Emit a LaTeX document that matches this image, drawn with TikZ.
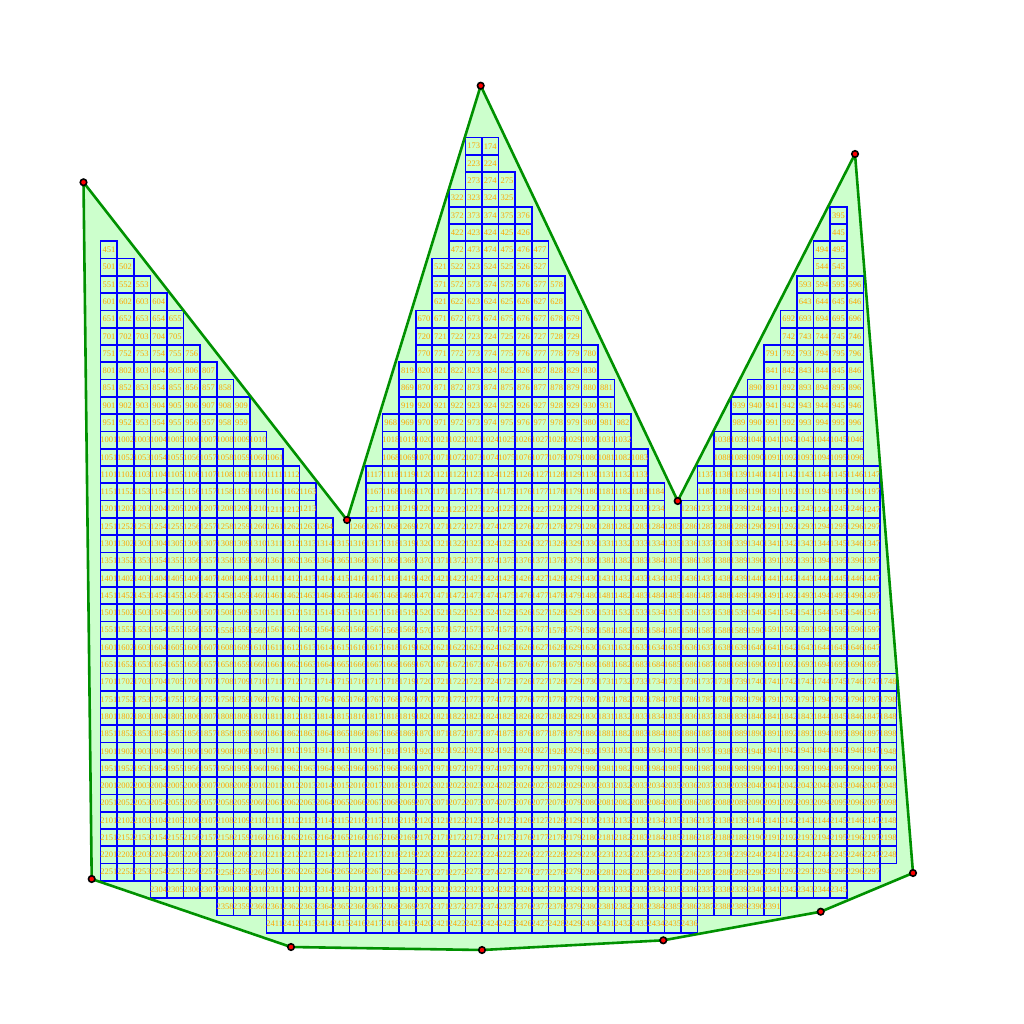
\documentclass[tikz,border=0pt]{standalone}
\usepackage{fontspec}
\setmainfont{Liberation Serif}
\definecolor{polyfill}{RGB}{204,255,204}
\definecolor{polyline}{RGB}{0,145,0}
\definecolor{numcol}{RGB}{255,165,0}
\begin{document}
\begin{tikzpicture}[x=1pt,y=-1pt,
  cellbox/.style={draw=blue, line width=1.6pt},
  numtxt/.style={text=numcol, font=\fontsize{8.5}{8.5}\selectfont, inner sep=0pt},
  polyshape/.style={draw=polyline, line width=2.6pt, line join=round},
  vtx/.style={circle, fill=red, draw=black, line width=1.6pt, minimum size=6.5pt, inner sep=0pt}]
\useasboundingbox (0,0) rectangle (1024,1024);
\coordinate (v1) at (83.5,182.3);
\coordinate (v2) at (347,520);
\coordinate (v3) at (480.7,85.7);
\coordinate (v4) at (677.7,501);
\coordinate (v5) at (855,154);
\coordinate (v6) at (913,873);
\coordinate (v7) at (820.7,911.7);
\coordinate (v8) at (663.3,940.3);
\coordinate (v9) at (482,950);
\coordinate (v10) at (291,947);
\coordinate (v11) at (91.7,879);
\fill[polyfill] (v1) -- (v2) -- (v3) -- (v4) -- (v5) -- (v6) -- (v7) -- (v8) -- (v9) -- (v10) -- (v11) -- cycle;
\def\gx{84.1}\def\gw{16.58}\def\gy{85.7}\def\gh{17.286}
\foreach \r/\a/\b in {3/23/24, 4/23/24, 5/23/25, 6/22/25,
  7/22/26, 7/45/45, 8/22/26, 8/45/45,
  9/1/1, 9/22/27, 9/44/45, 10/1/2, 10/21/27, 10/44/45,
  11/1/3, 11/21/28, 11/43/46, 12/1/4, 12/21/28, 12/43/46,
  13/1/5, 13/20/29, 13/42/46, 14/1/5, 14/20/29, 14/42/46,
  15/1/6, 15/20/30, 15/41/46, 16/1/7, 16/19/30, 16/41/46,
  17/1/8, 17/19/31, 17/40/46, 18/1/9, 18/19/31, 18/39/46,
  19/1/9, 19/18/32, 19/39/46, 20/1/10, 20/18/32, 20/38/46,
  21/1/11, 21/18/33, 21/38/46, 22/1/12, 22/17/33, 22/37/47,
  23/1/13, 23/17/34, 23/37/47, 24/1/13, 24/17/34, 24/36/47,
  25/1/14, 25/16/47,
  26/1/47, 27/1/47, 28/1/47, 29/1/47, 30/1/47, 31/1/47, 32/1/47, 33/1/47,
  34/1/48, 35/1/48, 36/1/48, 37/1/48, 38/1/48, 39/1/48, 40/1/48, 41/1/48,
  42/1/48, 43/1/48, 44/1/48, 45/1/47, 46/4/45, 47/8/41, 48/11/36}{
  \foreach \c in {\a,...,\b}{
    \pgfmathtruncatemacro{\n}{\r*50+\c}
    \draw[cellbox] ({\gx+\c*\gw},{\gy+\r*\gh}) rectangle ++(\gw,\gh);
    \node[numtxt] (n\n) at ({\gx+(\c+0.5)*\gw},{\gy+(\r+0.5)*\gh}) {\n};
  }
}
\draw[polyshape] (v1) -- (v2) -- (v3) -- (v4) -- (v5) -- (v6) -- (v7) -- (v8) -- (v9) -- (v10) -- (v11) -- cycle;
\foreach \i in {1,...,11}{
  \node[vtx] (p\i) at (v\i) {};
}
\end{tikzpicture}
\end{document}
